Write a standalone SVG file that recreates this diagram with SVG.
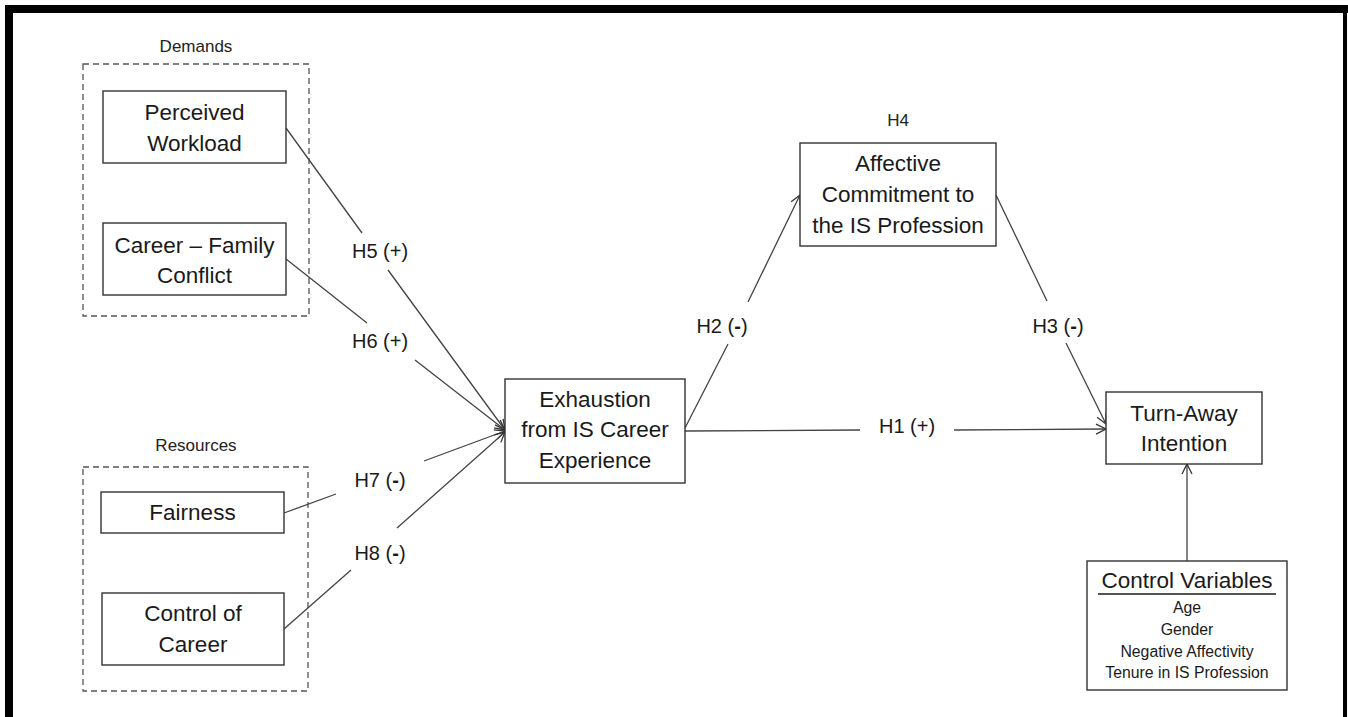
<svg xmlns="http://www.w3.org/2000/svg" width="1348" height="717" viewBox="0 0 1348 717">
<defs>
<style>
.box{fill:#fff;stroke:#333;stroke-width:1.4}
.grp{fill:none;stroke:#555;stroke-width:1.3;stroke-dasharray:6,4}
.t{font-family:"Liberation Sans",Arial,sans-serif;font-size:22.5px;fill:#1a1a1a;text-anchor:middle}
.s{font-family:"Liberation Sans",Arial,sans-serif;font-size:17px;fill:#222;text-anchor:middle}
.h{font-family:"Liberation Sans",Arial,sans-serif;font-size:20px;fill:#1a1a1a;text-anchor:middle}
.c{font-family:"Liberation Sans",Arial,sans-serif;font-size:15.8px;fill:#1a1a1a;text-anchor:middle}
.ln{fill:none;stroke:#444;stroke-width:1.3}
</style>
<marker id="arr" viewBox="0 0 12 12" refX="11" refY="6" markerWidth="12" markerHeight="12" markerUnits="userSpaceOnUse" orient="auto">
<path d="M1,1 L11,6 L1,11" fill="none" stroke="#333" stroke-width="1.3"/>
</marker>
</defs>
<rect width="1348" height="717" fill="#fff"/>
<g id="frame" fill="#000">
<rect x="5" y="5" width="1343" height="8"/>
<rect x="5" y="5" width="8" height="712"/>
<rect x="1343" y="5" width="4" height="712"/>
</g>

<g id="demands">
<text class="s" x="196" y="52">Demands</text>
<rect class="grp" x="83" y="64" width="226" height="252"/>
</g>
<g id="resources">
<text class="s" x="196" y="451">Resources</text>
<rect class="grp" x="83" y="467" width="225" height="224"/>
</g>

<g id="connectors">
<path class="ln" d="M286,128 L362,233 M388,270 L505,430" marker-end="url(#arr)"/>
<path class="ln" d="M286,259 L367,323 M415,360 L505,430" marker-end="url(#arr)"/>
<path class="ln" d="M284,513 L336,494 M424,461 L505,431" marker-end="url(#arr)"/>
<path class="ln" d="M284,629 L351,570 M397,528 L505,432" marker-end="url(#arr)"/>
<path class="ln" d="M685,428 L728,344 M748,302 L800,195" marker-end="url(#arr)"/>
<path class="ln" d="M685,431 L860,430 M954,430 L1106,429" marker-end="url(#arr)"/>
<path class="ln" d="M996,195 L1047,301 M1066,343 L1106,424" marker-end="url(#arr)"/>
<path class="ln" d="M1187,561 L1187,464" marker-end="url(#arr)"/>
</g>

<g id="labels">
<text class="h" x="380" y="258">H5 (+)</text>
<text class="h" x="380" y="348">H6 (+)</text>
<text class="h" x="380" y="487">H7 (<tspan font-weight="bold">-</tspan>)</text>
<text class="h" x="380" y="560">H8 (<tspan font-weight="bold">-</tspan>)</text>
<text class="h" x="722" y="333">H2 (<tspan font-weight="bold">-</tspan>)</text>
<text class="h" x="907" y="433">H1 (+)</text>
<text class="h" x="1058" y="333">H3 (<tspan font-weight="bold">-</tspan>)</text>
<text class="s" x="898" y="126">H4</text>
</g>

<g id="perceived-workload">
<rect class="box" x="103" y="91" width="183" height="72"/>
<text class="t" x="194.5" y="120">Perceived</text>
<text class="t" x="194.5" y="151">Workload</text>
</g>
<g id="career-family-conflict">
<rect class="box" x="103" y="223" width="183" height="72"/>
<text class="t" x="194.5" y="253">Career – Family</text>
<text class="t" x="194.5" y="283">Conflict</text>
</g>
<g id="fairness">
<rect class="box" x="101" y="492" width="183" height="41"/>
<text class="t" x="192.5" y="520">Fairness</text>
</g>
<g id="control-of-career">
<rect class="box" x="102" y="593" width="182" height="72"/>
<text class="t" x="193" y="621">Control of</text>
<text class="t" x="193" y="652">Career</text>
</g>
<g id="exhaustion">
<rect class="box" x="505" y="379" width="180" height="104"/>
<text class="t" x="595" y="407">Exhaustion</text>
<text class="t" x="595" y="437">from IS Career</text>
<text class="t" x="595" y="468">Experience</text>
</g>
<g id="affective-commitment">
<rect class="box" x="800" y="143" width="196" height="103"/>
<text class="t" x="898" y="171">Affective</text>
<text class="t" x="898" y="202">Commitment  to</text>
<text class="t" x="898" y="233">the IS Profession</text>
</g>
<g id="turn-away">
<rect class="box" x="1106" y="392" width="156" height="72"/>
<text class="t" x="1184" y="421">Turn-Away</text>
<text class="t" x="1184" y="451">Intention</text>
</g>
<g id="control-variables">
<rect class="box" x="1087" y="561" width="200" height="129"/>
<text class="t" x="1187" y="588" font-size="23px">Control Variables</text>
<line x1="1098" y1="594" x2="1276" y2="594" stroke="#1a1a1a" stroke-width="1.3"/>
<text class="c" x="1187" y="613">Age</text>
<text class="c" x="1187" y="635">Gender</text>
<text class="c" x="1187" y="657">Negative Affectivity</text>
<text class="c" x="1187" y="678">Tenure in IS Profession</text>
</g>
</svg>
